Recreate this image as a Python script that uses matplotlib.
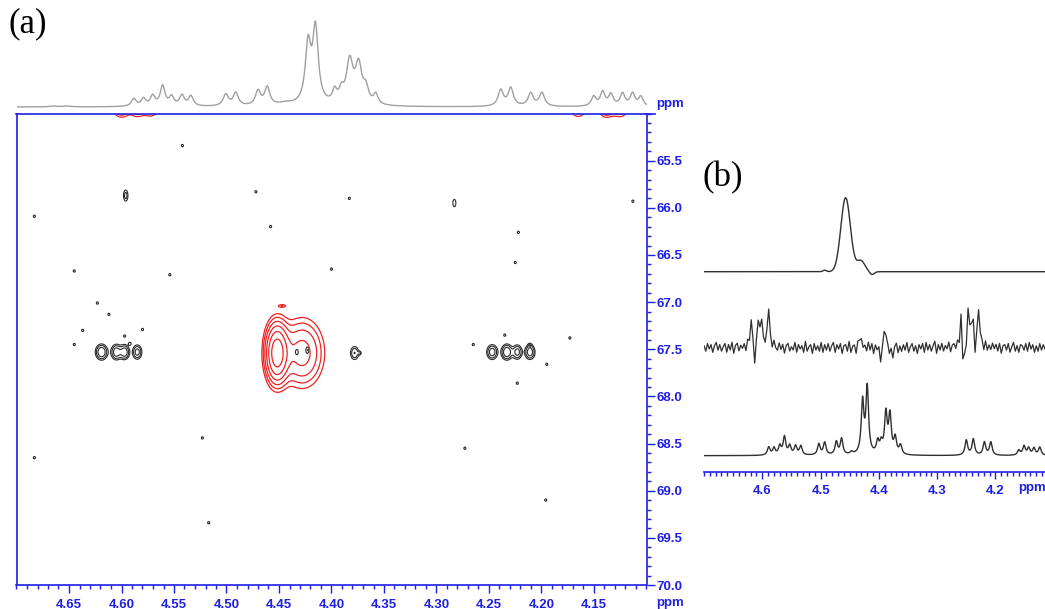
import numpy as np
import matplotlib
matplotlib.use('Agg')
import matplotlib.pyplot as plt
from matplotlib.ticker import FixedLocator, MultipleLocator, FormatStrFormatter
from matplotlib.lines import Line2D

plt.rcParams['font.family'] = 'Liberation Sans'
plt.rcParams['font.weight'] = 'bold'

W, H = 1045, 609
BLUE = '#1e1ee6'
RED = '#f02020'

# ── 1D proton trace above the 2D map (ppm, height, half-width) ──────────────
top_ppm = [4.665, 4.652, 4.5883, 4.5791, 4.5703, 4.5608, 4.5523, 4.5424, 4.5339,
           4.5007, 4.4912, 4.4700, 4.4612, 4.4437, 4.4223, 4.4153, 4.3970,
           4.3906, 4.3827, 4.3742, 4.3673, 4.3578, 4.2388, 4.2293, 4.2103,
           4.1996, 4.1503, 4.1418, 4.1339, 4.1228, 4.1133, 4.1054]
top_amp = [0.8, 0.8, 7.5, 7.5, 10.0, 20.0, 9.0, 10.5, 10.0,
           11.5, 13.0, 14.5, 18.0, 2.5, 58.0, 74.0, 12.0,
           11.0, 42.0, 38.0, 14.0, 10.0, 16.0, 18.0, 13.0,
           13.5, 9.5, 14.0, 11.5, 12.5, 12.5, 9.5]
top_hw = [0.004, 0.004, 0.0027, 0.0027, 0.0027, 0.0027, 0.0027, 0.0027, 0.0027,
          0.003, 0.003, 0.003, 0.003, 0.008, 0.0032, 0.0032, 0.0026,
          0.0026, 0.0038, 0.0038, 0.003, 0.0026, 0.003, 0.003, 0.003,
          0.003, 0.0027, 0.0027, 0.0027, 0.0027, 0.0027, 0.0027]

# ── 2D cross peaks (F2 ppm, F1 ppm, amplitude, F2 width, F1 width) ──────────
pk_f2 = [4.619, 4.605, 4.597, 4.585, 4.378, 4.247, 4.233, 4.223, 4.211,
         4.433, 4.423, 4.596, 4.283,
         4.452, 4.428, 4.447,
         4.600, 4.585, 4.572, 4.165, 4.138, 4.125]
pk_f1 = [67.53, 67.53, 67.53, 67.53, 67.54, 67.53, 67.53, 67.53, 67.53,
         67.53, 67.51, 65.87, 65.95,
         67.54, 67.54, 67.04,
         64.95, 64.95, 64.95, 64.95, 64.95, 64.95]
pk_amp = [4.0, 3.6, 3.6, 3.2, 2.6, 3.5, 4.0, 3.2, 3.5,
          1.5, 1.6, 2.0, 1.6,
          -14.0, -5.0, -1.4,
          -3.0, -2.5, -2.2, -2.5, -3.0, -2.5]
pk_w2 = [0.0036, 0.0031, 0.0029, 0.0029, 0.0028, 0.0033, 0.0033, 0.0029, 0.0031,
         0.0015, 0.0015, 0.0018, 0.0015,
         0.0062, 0.012, 0.003,
         0.005, 0.005, 0.005, 0.005, 0.005, 0.005]
pk_w1 = [0.052, 0.052, 0.05, 0.05, 0.05, 0.05, 0.052, 0.05, 0.05,
         0.03, 0.035, 0.05, 0.04,
         0.178, 0.21, 0.012,
         0.06, 0.06, 0.06, 0.06, 0.06, 0.06]

# weak single-level noise spots in the 2D map
dot_f2 = [4.542, 4.472, 4.683, 4.458, 4.645, 4.554, 4.383, 4.222, 4.225,
          4.400, 4.113, 4.623, 4.612, 4.637, 4.597, 4.580, 4.645, 4.592,
          4.235, 4.265, 4.211, 4.195, 4.223, 4.173, 4.373,
          4.523, 4.273, 4.683, 4.196, 4.517]
dot_f1 = [65.34, 65.83, 66.09, 66.20, 66.67, 66.71, 65.90, 66.26, 66.58,
          66.65, 65.93, 67.01, 67.13, 67.30, 67.36, 67.29, 67.45, 67.44,
          67.35, 67.45, 67.46, 67.66, 67.86, 67.38, 67.54,
          68.44, 68.55, 68.65, 69.10, 69.34]

x_ticks = [4.65, 4.60, 4.55, 4.50, 4.45, 4.40, 4.35, 4.30, 4.25, 4.20, 4.15]
y_ticks = [65.5, 66.0, 66.5, 67.0, 67.5, 68.0, 68.5, 69.0, 69.5, 70.0]

# ── panel (b) traces ────────────────────────────────────────────────────────
# selective 1D trace (Gaussian lines)
sel_ppm = [4.493, 4.457, 4.431, 4.412]
sel_amp = [1.5, 74.0, 11.0, -3.0]
sel_sig = [0.003, 0.0082, 0.007, 0.004]

# difference trace: peaks plus the residual noise floor
dif_ppm = [4.619, 4.613, 4.607, 4.600, 4.596, 4.590, 4.440, 4.433, 4.397,
           4.389, 4.377, 4.259, 4.255, 4.246, 4.239, 4.235, 4.229]
dif_amp = [28.0, -20.0, 32.0, 30.0, -14.0, 44.0, -6.0, 15.0, -11.0,
           21.0, -10.0, 36.0, -30.0, 40.0, 30.0, -12.0, 40.0]
dif_noise = [2, -3, 4, -1, 3, -4, 2, 5, -2, 3, -3, 1, 4, -4,
             3, -2, 5, -5, 2, 4, -3, 2, -1, 3, -4, 5, -2, 1,
             4, -3, 2, -5, 3, 1, -2, 4, -4, 2, 3, -3, 5, -1,
             -3, 4, -2, 3, -5, 2, 4, -3, 1, -2, 5, -4, 3, -1,
             2, -4, 6, -3, 1, 3, -5, 4, -2, 2, -3, 5, -4, 3,
             -2, 4, -3, 2, 5, -4, 3, -1, 4, -5, 2, 3, -3, 6,
             -4, 2, 5, -2, 3, -6, 4, -1, 2, -3, 5, -2, 4, -5,
             3, -1, 4, -4, 2, 6, -3, 1, -5, 4, -2, 3, 5, -4,
             2, -3, 3, -2, 5, -4, 1, 4, -3, 2, -5, 3, -1, 4,
             -4, 5, -2, 3, -3, 2, 6, -5, 3, -2, 4, -3, 2, -1,
             5, -4, 2, 3, -2, 4, -5, 3, -1, 2, -4, 5, -3, 2,
             3, -5, 4, -2, 1, 3, -4, 5, -3, 2, -2, 4, -1, 3,
             -3, 4, -5, 2, 3, -2, 4, -4, 1, 5, -3, 2, -4, 3,
             2, -2, 4, -3, 5, -1, 3, -4, 2, -3, 4, -2, 3, -1]

# reference 1D trace
ref_ppm = [4.589, 4.580, 4.570, 4.562, 4.553, 4.543, 4.534, 4.503, 4.493,
           4.473, 4.464, 4.447, 4.428, 4.420, 4.402, 4.396, 4.388, 4.381,
           4.372, 4.363, 4.250, 4.238, 4.219, 4.208, 4.160, 4.151, 4.143,
           4.134, 4.124]
ref_amp = [8.0, 7.0, 9.0, 18.0, 9.0, 9.0, 9.0, 11.0, 12.5,
           13.0, 16.0, 2.5, 52.0, 66.0, 12.0, 10.0, 40.0, 38.0,
           16.0, 9.0, 15.0, 16.0, 13.0, 13.0, 5.0, 9.0, 7.0,
           7.0, 8.0]
b_ticks = [4.6, 4.5, 4.4, 4.3, 4.2]


def lorentz_sum(x, pos, amp, hw):
    y = np.zeros_like(x)
    for p, a, w in zip(pos, amp, hw):
        y += a / (1.0 + ((x - p) / w) ** 2)
    return y


def gauss_sum(x, pos, amp, sig):
    y = np.zeros_like(x)
    for p, a, s in zip(pos, amp, sig):
        y += a * np.exp(-0.5 * ((x - p) / s) ** 2)
    return y


fig = plt.figure(figsize=(W / 100, H / 100), dpi=100, facecolor='white')

# ── (a) 2D map ──────────────────────────────────────────────────────────────
ax = fig.add_axes([16.5 / W, (H - 585) / H, 630 / W, 471.5 / H])

f2 = np.linspace(4.10, 4.70, 1201)
f1 = np.linspace(64.80, 70.0, 1041)
pos = np.zeros((f1.size, f2.size))
neg = np.zeros((f1.size, f2.size))
for x0, y0, a, sx, sy in zip(pk_f2, pk_f1, pk_amp, pk_w2, pk_w1):
    blob = a * np.outer(np.exp(-0.5 * ((f1 - y0) / sy) ** 2),
                        np.exp(-0.5 * ((f2 - x0) / sx) ** 2))
    if a > 0:
        pos += blob
    else:
        neg += blob
for x0, y0 in zip(dot_f2, dot_f1):
    pos += 1.4 * np.outer(np.exp(-0.5 * ((f1 - y0) / 0.015) ** 2),
                          np.exp(-0.5 * ((f2 - x0) / 0.0012) ** 2))

levels = 1.0 * 1.6 ** np.arange(7)
ax.contour(f2, f1, pos, levels=levels, colors='#2a2a2a', linewidths=0.8)
ax.contour(f2, f1, neg, levels=-levels[::-1], colors=RED, linewidths=0.9,
           linestyles='solid')

ax.set_xlim(4.70, 4.10)
ax.set_ylim(70.0, 65.0)
ax.yaxis.tick_right()
ax.xaxis.set_major_locator(FixedLocator(x_ticks))
ax.xaxis.set_minor_locator(MultipleLocator(0.01))
ax.yaxis.set_major_locator(FixedLocator(y_ticks))
ax.yaxis.set_minor_locator(MultipleLocator(0.1))
ax.xaxis.set_major_formatter(FormatStrFormatter('%.2f'))
ax.yaxis.set_major_formatter(FormatStrFormatter('%.1f'))
ax.tick_params(which='both', direction='out', color=BLUE, labelcolor=BLUE,
               labelsize=9.5, width=1.0)
ax.tick_params(which='major', length=6)
ax.tick_params(which='minor', length=3)
ax.tick_params(axis='x', pad=4)
ax.tick_params(axis='y', pad=1)
for sp in ax.spines.values():
    sp.set_color(BLUE)
    sp.set_linewidth(1.2)

fig.text(670 / W, 1 - 603 / H, 'ppm', ha='center', va='center',
         color=BLUE, fontsize=9.5)
fig.text(670 / W, 1 - 104 / H, 'ppm', ha='center', va='center',
         color=BLUE, fontsize=9.5)
fig.add_artist(Line2D([646 / W, 655 / W], [1 - 113.7 / H, 1 - 113.7 / H],
                      color=BLUE, lw=1.2, transform=fig.transFigure))

# projection on top
axt = fig.add_axes([16.5 / W, (H - 113) / H, 630 / W, 98 / H])
xt = np.linspace(4.70, 4.10, 3000)
axt.plot(xt, lorentz_sum(xt, top_ppm, top_amp, top_hw), color='#a0a0a0', lw=1.0)
axt.set_xlim(4.70, 4.10)
axt.set_ylim(-6, 92)
axt.axis('off')

fig.text(8 / W, 1 - 24 / H, '(a)', family='Liberation Serif', fontweight='normal',
         fontsize=25, ha='left', va='center')

# ── (b) 1D traces ───────────────────────────────────────────────────────────
axb = fig.add_axes([704 / W, (H - 472) / H, 341 / W, 322 / H])
xb = np.linspace(4.70, 4.115, 2000)
xm = np.linspace(4.70, 4.115, len(dif_noise))

axb.plot(xb, 200.3 + gauss_sum(xb, sel_ppm, sel_amp, sel_sig), color='#303030', lw=1.0)
axb.plot(xm, 124 + 1.1 * np.array(dif_noise)
         + lorentz_sum(xm, dif_ppm, dif_amp, [0.0022] * len(dif_ppm)),
         color='#303030', lw=0.9)
axb.plot(xb, 16.3 + lorentz_sum(xb, ref_ppm, ref_amp, [0.0027] * len(ref_ppm)),
         color='#303030', lw=1.0)

axb.set_xlim(4.70, 4.115)
axb.set_ylim(0, 322)
for side in ('left', 'right', 'top'):
    axb.spines[side].set_visible(False)
axb.spines['bottom'].set_color(BLUE)
axb.spines['bottom'].set_linewidth(1.2)
axb.set_yticks([])
axb.xaxis.set_major_locator(FixedLocator(b_ticks))
axb.xaxis.set_minor_locator(MultipleLocator(0.01))
axb.xaxis.set_major_formatter(FormatStrFormatter('%.1f'))
axb.tick_params(which='both', direction='out', color=BLUE, labelcolor=BLUE,
                labelsize=9.5, width=1.0, pad=4)
axb.tick_params(which='major', length=5)
axb.tick_params(which='minor', length=3)

fig.text(1032 / W, 1 - 488 / H, 'ppm', ha='center', va='center',
         color=BLUE, fontsize=9.5)
fig.text(703 / W, 1 - 178 / H, '(b)', family='Liberation Serif', fontweight='normal',
         fontsize=25, ha='left', va='center')

fig.savefig('out.png', dpi=100, facecolor='white')
